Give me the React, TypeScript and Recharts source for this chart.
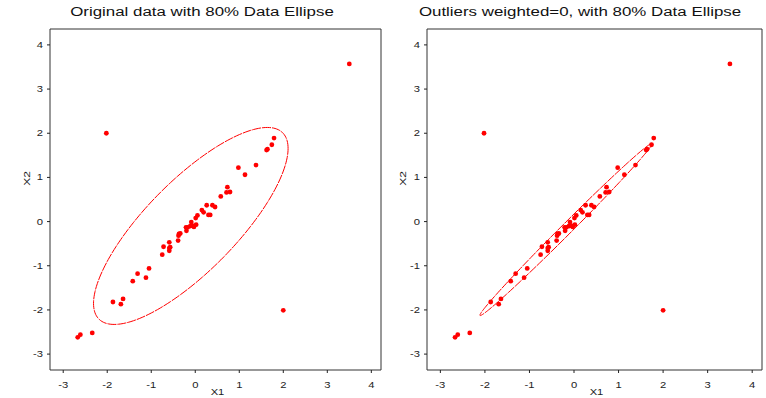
import { ScatterChart, Scatter, XAxis, YAxis, ReferenceArea } from 'recharts';

const X1 = [
  -2.67, -2.61, -2.34, -1.87, -1.69, -1.64, -1.42, -1.31, -1.12, -1.05,
  -0.75, -0.72, -0.59, -0.59, -0.59, -0.57, -0.39, -0.38, -0.37, -0.34,
  -0.21, -0.20, -0.17, -0.11, -0.09, -0.06, -0.03, 0.02, 0.01, 0.05,
  0.15, 0.19, 0.26, 0.30, 0.34, 0.39, 0.45, 0.58, 0.71, 0.73,
  0.79, 0.98, 1.13, 1.38, 1.62, 1.64, 1.74, 1.79, -2.02, 3.5, 2.0,
];
const X2 = [
  -2.62, -2.56, -2.52, -1.82, -1.87, -1.75, -1.35, -1.18, -1.27, -1.06,
  -0.75, -0.57, -0.47, -0.60, -0.66, -0.58, -0.43, -0.32, -0.28, -0.27,
  -0.13, -0.21, -0.13, -0.10, -0.01, -0.09, -0.12, -0.07, 0.08, 0.14,
  0.26, 0.21, 0.37, 0.15, 0.15, 0.37, 0.33, 0.57, 0.66, 0.78,
  0.67, 1.22, 1.06, 1.28, 1.62, 1.64, 1.74, 1.89, 2.0, 3.57, -2.01,
];
// weight used in the right panel (outliers get 0)
const WEIGHT = X1.map((_, i) => (i >= 48 ? 0 : 1));

const xTicks = [-3, -2, -1, 0, 1, 2, 3, 4];
const yTicks = [-3, -2, -1, 0, 1, 2, 3, 4];
const xDomain = [-3.3, 4.22];
const yDomain = [-3.36, 4.36];

const RED = '#ff0000';
const INK = '#222';
const FONT = '"Liberation Sans", Arial, sans-serif';
const STRETCH = 1.35; // text in the original is drawn wide

const points = X1.map((x, i) => ({ x, y: X2[i] }));

// 80% data ellipse from weighted mean / covariance
function dataEllipse(w: number[], level: number) {
  let sw = 0, mx = 0, my = 0;
  w.forEach((wi, i) => { sw += wi; mx += wi * X1[i]; my += wi * X2[i]; });
  mx /= sw; my /= sw;
  let sxx = 0, syy = 0, sxy = 0;
  w.forEach((wi, i) => {
    const dx = X1[i] - mx, dy = X2[i] - my;
    sxx += wi * dx * dx; syy += wi * dy * dy; sxy += wi * dx * dy;
  });
  sxx /= sw - 1; syy /= sw - 1; sxy /= sw - 1;
  const c = Math.sqrt(-2 * Math.log(1 - level));
  const l11 = Math.sqrt(sxx);
  const l21 = sxy / l11;
  const l22 = Math.sqrt(Math.max(syy - l21 * l21, 0));
  const out: { x: number; y: number }[] = [];
  for (let k = 0; k <= 180; k++) {
    const t = (2 * Math.PI * k) / 180;
    const u = Math.cos(t), v = Math.sin(t);
    out.push({ x: mx + c * l11 * u, y: my + c * (l21 * u + l22 * v) });
  }
  return out;
}

const ellipseAll = dataEllipse(X1.map(() => 1), 0.8);
const ellipseInliers = dataEllipse(WEIGHT, 0.8);

const XTick = (p: any) => (
  <text transform={`translate(${p.x},${p.y + 12.5}) scale(${STRETCH},1)`} textAnchor="middle" fontSize={8.3} fontFamily={FONT} fill={INK}>
    {p.payload.value}
  </text>
);

const YTick = (p: any) => (
  <text transform={`translate(${p.x - 2},${p.y + 3}) scale(${STRETCH},1)`} textAnchor="end" fontSize={8.3} fontFamily={FONT} fill={INK}>
    {p.payload.value}
  </text>
);

function Panel({ ellipse, marginLeft, marginRight, ylabelX }: { ellipse: { x: number; y: number }[]; marginLeft: number; marginRight: number; ylabelX: number }) {
  return (
    <ScatterChart width={383} height={398} margin={{ top: 29, right: marginRight, bottom: 8, left: marginLeft }}>
      <XAxis
        type="number"
        dataKey="x"
        domain={xDomain}
        ticks={xTicks}
        allowDataOverflow
        axisLine={false}
        tickLine={{ stroke: INK }}
        tickSize={3}
        tick={XTick}
        height={20}
        label={(props: any) => {
          const vb = props.viewBox;
          return (
            <text transform={`translate(${vb.x + vb.width / 2 + 2},${vb.y + 25}) scale(${STRETCH},1)`} textAnchor="middle" fontSize={8.3} fontFamily={FONT} fill={INK}>X1</text>
          );
        }}
      />
      <YAxis
        type="number"
        dataKey="y"
        domain={yDomain}
        ticks={yTicks}
        allowDataOverflow
        axisLine={false}
        tickLine={{ stroke: INK }}
        tickSize={3}
        tick={YTick}
        width={36}
        label={(props: any) => {
          const vb = props.viewBox;
          return (
            <text transform={`translate(${ylabelX},${vb.y + vb.height / 2 - 21}) rotate(-90) scale(${STRETCH + 0.1},1)`} textAnchor="middle" fontSize={8.3} fontFamily={FONT} fill={INK}>X2</text>
          );
        }}
      />
      <ReferenceArea x1={xDomain[0]} x2={xDomain[1]} y1={yDomain[0]} y2={yDomain[1]} fill="none" fillOpacity={0} stroke="#333" strokeWidth={1} strokeOpacity={1} />
      <Scatter data={ellipse} line={{ stroke: RED, strokeWidth: 1, strokeDasharray: '9 1' }} lineType="joint" shape={() => <g />} isAnimationActive={false} />
      <Scatter data={points} fill={RED} shape={(p: any) => <circle cx={p.cx} cy={p.cy} r={2.4} fill={RED} />} isAnimationActive={false} />
    </ScatterChart>
  );
}

export default function App() {
  const titleStyle = {
    position: 'absolute' as const,
    top: 5,
    fontFamily: FONT,
    fontSize: 12.5,
    color: '#111',
    whiteSpace: 'nowrap' as const,
    transform: `translateX(-50%) scaleX(${STRETCH})`,
  };
  return (
    <div style={{ position: 'absolute', left: 0, top: 0, width: 766, height: 398, background: '#fff', overflow: 'hidden' }}>
      <div style={{ ...titleStyle, left: 202 }}>Original data with 80% Data Ellipse</div>
      <div style={{ ...titleStyle, left: 580 }}>Outliers weighted=0, with 80% Data Ellipse</div>
      <div style={{ position: 'absolute', left: 0, top: 0 }}>
        <Panel ellipse={ellipseAll} marginLeft={14} marginRight={2} ylabelX={30} />
      </div>
      <div style={{ position: 'absolute', left: 383, top: 0 }}>
        <Panel ellipse={ellipseInliers} marginLeft={8} marginRight={4} ylabelX={23} />
      </div>
    </div>
  );
}
